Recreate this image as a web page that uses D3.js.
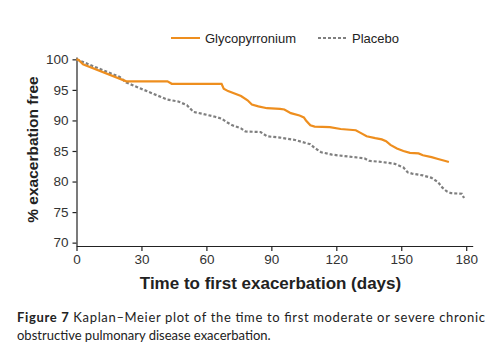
<!DOCTYPE html>
<html>
<head>
<meta charset="utf-8">
<script src="https://cdn.jsdelivr.net/npm/d3@7"></script>
<style>
	body { margin: 0; background: #fff; }
	svg { display: block; }
</style>
</head>
<body>
<div id="chart"></div>
<script>
// Kaplan-Meier curves: [day, % exacerbation free]
const glycoDays = [0, 1, 3, 23, 42, 44, 67, 68, 70, 76, 79, 81, 84, 88, 94, 96, 99, 103, 105, 106, 108, 110, 117, 122, 129, 131, 134, 138, 141, 143, 145, 148, 151, 154, 158, 160, 164, 167, 170, 172];
const glycoValues = [100, 99.9, 99.2, 96.4, 96.4, 96.0, 96.0, 95.2, 94.8, 94.0, 93.3, 92.6, 92.3, 92.0, 91.9, 91.8, 91.2, 90.8, 90.5, 90.0, 89.2, 89.0, 88.9, 88.6, 88.4, 88.0, 87.4, 87.1, 86.9, 86.6, 86.0, 85.4, 85.0, 84.7, 84.6, 84.3, 84.0, 83.7, 83.4, 83.2];
const placeboDays = [0, 20, 23, 42, 47, 51, 54, 58, 64, 67, 69, 72, 76, 78, 85, 88, 94, 101, 106, 108, 110, 113, 118, 128, 133, 135, 141, 147, 151, 153, 155, 160, 164, 167, 169, 171, 173, 178, 179];
const placeboValues = [100, 97.1, 96.2, 93.4, 93.1, 92.5, 91.4, 91.1, 90.6, 90.3, 89.8, 89.2, 88.7, 88.2, 88.1, 87.4, 87.2, 86.8, 86.3, 86.1, 85.5, 84.8, 84.4, 84.0, 83.8, 83.4, 83.2, 82.9, 82.3, 81.5, 81.3, 81.0, 80.6, 79.9, 79.0, 78.4, 78.1, 78.0, 77.3];
const seriesNames = ["Glycopyrronium", "Placebo"];
const xTicks = [0, 30, 60, 90, 120, 150, 180];
const yTicks = [70, 75, 80, 85, 90, 95, 100];

const width = 493;
const height = 351;
const svg = d3.select("#chart")
	.append("svg")
	.attr("width", width)
	.attr("height", height);

const x = d3.scaleLinear().domain([0, 183]).range([76.5, 472.7]);
const y = d3.scaleLinear().domain([69.45, 100.4]).range([246, 56.9]);

const colors = ["#EE8E1E", "#7f7f7f"];

// axes
svg.append("g")
	.attr("transform", `translate(${x(0)},0)`)
	.call(d3.axisLeft(y).tickValues(yTicks).tickSize(4).tickSizeOuter(0).tickPadding(4));
svg.append("g")
	.attr("transform", `translate(0,${y.range()[0]})`)
	.call(d3.axisBottom(x).tickValues(xTicks).tickSize(5).tickSizeOuter(0).tickPadding(3));

svg.selectAll(".tick text")
	.style("font-family", "Liberation Sans, Arial, sans-serif")
	.style("font-size", "13.5px")
	.attr("fill", "#333");
svg.selectAll(".domain, .tick line").attr("stroke", "#222").attr("stroke-width", 1.2);

// curves
const line = d3.line()
	.x(d => x(d[0]))
	.y(d => y(d[1]));

const glyco = glycoDays.map((d, i) => [d, glycoValues[i]]);
const placebo = placeboDays.map((d, i) => [d, placeboValues[i]]);

svg.append("path")
	.datum(placebo)
	.attr("d", line)
	.attr("fill", "none")
	.attr("stroke", colors[1])
	.attr("stroke-width", 2.2)
	.attr("stroke-dasharray", "3,2");

svg.append("path")
	.datum(glyco)
	.attr("d", line)
	.attr("fill", "none")
	.attr("stroke", colors[0])
	.attr("stroke-width", 2.2);

// legend
const legend = svg.append("g")
	.style("font-family", "Liberation Sans, Arial, sans-serif")
	.style("font-size", "13px");
const legX = [171, 318];
seriesNames.forEach((name, i) => {
	legend.append("line")
		.attr("x1", legX[i]).attr("x2", legX[i] + 29)
		.attr("y1", 38).attr("y2", 38)
		.attr("stroke", colors[i])
		.attr("stroke-width", 2)
		.attr("stroke-dasharray", i === 1 ? "3,2" : null);
	legend.append("text")
		.attr("x", legX[i] + 34)
		.attr("y", 42.5)
		.attr("fill", "#222")
		.text(name);
});

// axis titles
svg.append("text")
	.attr("transform", `translate(${38},${149.5}) rotate(-90)`)
	.attr("text-anchor", "middle")
	.style("font-family", "Liberation Sans, Arial, sans-serif")
	.style("font-size", "15.5px")
	.style("font-weight", "bold")
	.attr("fill", "#222")
	.text("% exacerbation free");

svg.append("text")
	.attr("x", 270.5)
	.attr("y", 289)
	.attr("text-anchor", "middle")
	.style("font-family", "Liberation Sans, Arial, sans-serif")
	.style("font-size", "17px")
	.style("font-weight", "bold")
	.attr("fill", "#222")
	.text("Time to first exacerbation (days)");

// caption
const cap1 = svg.append("text")
	.attr("x", 17)
	.attr("y", 322)
	.attr("textLength", 468)
	.attr("lengthAdjust", "spacing")
	.style("font-family", "Lato, sans-serif")
	.style("font-size", "13px")
	.attr("fill", "#222");
cap1.append("tspan").style("font-weight", "bold").text("Figure 7");
cap1.append("tspan").text(" Kaplan\u2013Meier plot of the time to first moderate or severe chronic");

svg.append("text")
	.attr("x", 17)
	.attr("y", 340)
	.style("font-family", "Lato, sans-serif")
	.style("font-size", "13px")
	.attr("fill", "#222")
	.text("obstructive pulmonary disease exacerbation.");
</script>
</body>
</html>
